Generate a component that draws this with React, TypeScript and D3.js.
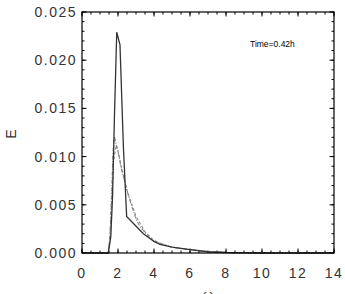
import * as React from 'react';
import * as d3 from 'd3';

// energy spectrum at Time=0.42h
const solidX = [0, 1.46, 1.6, 1.7, 1.8, 1.93, 2.11, 2.3, 2.48, 2.94, 3.41, 4.0, 4.33, 5.0, 6.0, 7.0, 8.0, 9.0, 10.0, 14.0];
const solidY = [0, 0, 0.0017, 0.006, 0.014, 0.0229, 0.0216, 0.011, 0.0038, 0.0029, 0.002, 0.0012, 0.0009, 0.0006, 0.00035, 0.00013, 0.00005, 0.00002, 0, 0];

const dashX = [0, 1.46, 1.55, 1.65, 1.75, 1.9, 2.05, 2.2, 2.5, 3.0, 3.5, 4.0, 4.5, 5.0, 6.0, 7.0, 8.0, 10.0, 14.0];
const dashY = [0, 0, 0.0015, 0.0055, 0.0095, 0.0112, 0.0102, 0.0088, 0.0065, 0.0038, 0.0022, 0.0013, 0.0009, 0.0006, 0.00035, 0.00013, 0.00005, 0, 0];

const dotDashX = [0, 1.46, 1.55, 1.65, 1.72, 1.8, 2.0, 2.2, 2.39, 2.6, 3.0, 3.2, 3.6, 4.0, 5.0, 6.0, 7.0, 8.0, 10.0, 14.0];
const dotDashY = [0, 0, 0.0018, 0.0065, 0.0105, 0.0121, 0.0105, 0.0086, 0.0073, 0.0058, 0.0035, 0.0028, 0.0019, 0.0012, 0.0006, 0.00035, 0.00013, 0.00005, 0, 0];

const xTicks = [0, 2, 4, 6, 8, 10, 12, 14];
const yTicks = [0, 0.005, 0.01, 0.015, 0.02, 0.025];
const yTickLabels = ['0.000', '0.005', '0.010', '0.015', '0.020', '0.025'];

const W = 345;
const H = 294;
const left = 82;
const right = 334;
const top = 12;
const bottom = 253;

export default function App() {
    const x = d3.scaleLinear().domain([0, 14]).range([left, right]);
    const y = d3.scaleLinear().domain([0, 0.025]).range([bottom, top]);

    const line = d3.line<[number, number]>()
        .x(d => x(d[0]))
        .y(d => y(d[1]));

    const zip = (xs: number[], ys: number[]) => xs.map((v, i) => [v, ys[i]] as [number, number]);

    const xMinor = d3.range(0, 14.001, 0.5);
    const yMinor = d3.range(0, 0.02501, 0.001);
    const font = '"Liberation Sans", Arial, sans-serif';

    return (
        <svg width={W} height={H} style={{ position: 'absolute', left: 0, top: 0, background: '#fff' }}>
            {/* minor ticks, all four sides, pointing in */}
            {xMinor.map((t, i) => (
                <g key={'xm' + i} stroke="#000" strokeWidth={1}>
                    <line x1={x(t)} x2={x(t)} y1={bottom} y2={bottom - 2.5} />
                    <line x1={x(t)} x2={x(t)} y1={top} y2={top + 2.5} />
                </g>
            ))}
            {yMinor.map((t, i) => (
                <g key={'ym' + i} stroke="#000" strokeWidth={1}>
                    <line x1={left} x2={left + 2.5} y1={y(t)} y2={y(t)} />
                    <line x1={right} x2={right - 2.5} y1={y(t)} y2={y(t)} />
                </g>
            ))}
            {xTicks.map(t => (
                <g key={'xt' + t} stroke="#000" strokeWidth={1}>
                    <line x1={x(t)} x2={x(t)} y1={bottom} y2={bottom - 4.5} />
                    <line x1={x(t)} x2={x(t)} y1={top} y2={top + 4.5} />
                </g>
            ))}
            {yTicks.map(t => (
                <g key={'yt' + t} stroke="#000" strokeWidth={1}>
                    <line x1={left} x2={left + 4.5} y1={y(t)} y2={y(t)} />
                    <line x1={right} x2={right - 4.5} y1={y(t)} y2={y(t)} />
                </g>
            ))}

            <path d={line(zip(dashX, dashY)) || ''} fill="none" stroke="#888" strokeWidth={1.1} strokeDasharray="3,2" />
            <path d={line(zip(dotDashX, dotDashY)) || ''} fill="none" stroke="#888" strokeWidth={1.1} strokeDasharray="4,1.5,1,1.5" />
            <path d={line(zip(solidX, solidY)) || ''} fill="none" stroke="#333" strokeWidth={1.3} />

            <rect x={left} y={top} width={right - left} height={bottom - top} fill="none" stroke="#000" strokeWidth={1.2} />

            {xTicks.map(t => (
                <text key={'xl' + t} x={x(t)} y={278} textAnchor="middle" fontFamily={font} fontSize={14}
                    letterSpacing={1.5} fill="#333">{t}</text>
            ))}
            {yTicks.map((t, i) => (
                <text key={'yl' + t} x={77} y={y(t) + 5} textAnchor="end" fontFamily={font} fontSize={14}
                    letterSpacing={1.5} fill="#333">{yTickLabels[i]}</text>
            ))}

            <text transform="translate(16,134) rotate(-90)" textAnchor="middle" fontFamily={font} fontSize={14} fill="#333">E</text>
            <text x={208} y={300} textAnchor="middle" fontFamily={font} fontSize={14} fill="#333">ω</text>
            <text x={250} y={47} fontFamily={font} fontSize={8.5} fill="#000">Time=0.42h</text>
        </svg>
    );
}
